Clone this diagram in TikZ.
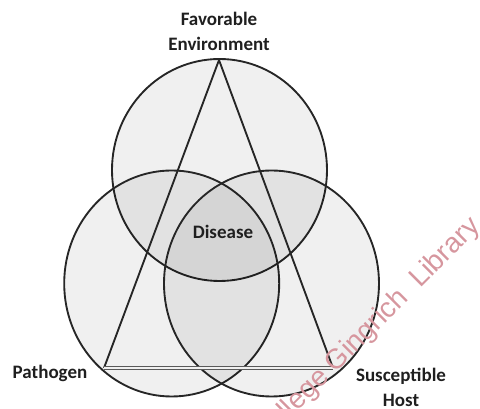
\documentclass[tikz,border=0pt]{standalone}
\usepackage{fontspec}
\setmainfont{Carlito}
\newfontfamily\markfont{Liberation Sans}
\usepackage{tikz}

\tikzset{
	ring/.style={draw=black!85, line width=1.4pt, fill=black, fill opacity=0.06},
	side/.style={draw=black!85, line width=1.4pt},
	label/.style={inner sep=0.75pt, align=center, font=\bfseries\fontsize{14.25}{18.75}\selectfont, text=black!88},
}

\begin{document}
\begin{tikzpicture}[x=0.75pt,y=0.75pt,yscale=-1,xscale=1]

	\useasboundingbox (0,0) rectangle (480,409);

	%%CIRCLES---------------------------------------------
	%%Top circle
	\path [ring] (219.5,170) ellipse [x radius=107.5, y radius=111];
	%%Left circle
	\path [ring] (171.7,283.5) ellipse [x radius=107.5, y radius=113];
	%%Right circle
	\path [ring] (271.5,283.5) ellipse [x radius=107.5, y radius=113];

	%%TRIANGLE--------------------------------------------
	\coordinate (apex) at (219,60);
	\coordinate (baseL) at (104,368);
	\coordinate (baseR) at (333,368);
	%%Left side
	\draw [side] (apex) -- (baseL);
	%%Right side
	\draw [side] (apex) -- (baseR);
	%%Base line
	\draw [draw=black!65, line width=1pt, double=black!6, double distance=1.2pt] (baseL) -- (baseR);

	% Text Node
	\node [label] (env) at (219,31) {Favorable\\Environment};
	% Text Node
	\node [label] (dis) at (223,231.5) {Disease};
	% Text Node
	\node [label] (path) at (50,373) {Pathogen};
	% Text Node
	\node [label] (host) at (401,387) {Susceptible\\Host};

	%%Watermark
	\begin{scope}
		\clip (0,0) rectangle (480,409);
		\node [anchor=base west, rotate=45, inner sep=0pt, font=\markfont\fontsize{21}{21}\selectfont, text={rgb, 255:red, 214; green, 150; blue, 158}] (mark) at (263,446) {College Gingrich\ \ Library};
	\end{scope}

\end{tikzpicture}
\end{document}
